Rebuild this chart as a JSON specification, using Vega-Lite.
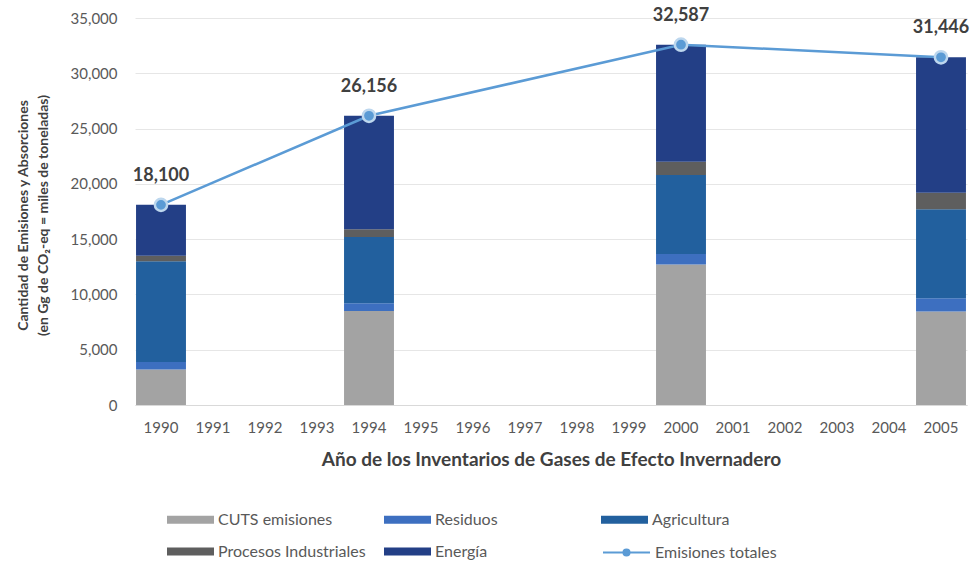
{
  "$schema": "https://vega.github.io/schema/vega-lite/v6.json",
  "width": 832,
  "height": 387,
  "autosize": {"type": "none"},
  "padding": {"left": 135, "top": 18, "right": 5, "bottom": 162},
  "background": "white",
  "config": {
    "font": "Lato",
    "view": {"stroke": null},
    "axis": {
      "labelFont": "Lato",
      "labelColor": "#595959",
      "labelFontSize": 15,
      "titleFont": "Lato",
      "titleColor": "#404040",
      "titleFontWeight": "bold"
    },
    "axisY": {
      "titleFontSize": 14,
      "titleLineHeight": 20,
      "titleAngle": -90,
      "titleX": -119,
      "titleY": 197,
      "titleBaseline": "top",
      "titleAlign": "center",
      "values": [0, 5000, 10000, 15000, 20000, 25000, 30000, 35000],
      "format": ",d",
      "labelPadding": 18,
      "ticks": false,
      "domain": false,
      "grid": true,
      "gridColor": "#E6E6E6"
    },
    "legend": {
      "labelFont": "Lato",
      "labelFontSize": 16,
      "labelColor": "#595959",
      "labelLimit": 400
    }
  },
  "datasets": {
    "sectores": [
      {"anio": "1990", "sector": "CUTS emisiones", "valor": 3200},
      {"anio": "1990", "sector": "Residuos", "valor": 700},
      {"anio": "1990", "sector": "Agricultura", "valor": 9100},
      {"anio": "1990", "sector": "Procesos Industriales", "valor": 500},
      {"anio": "1990", "sector": "Energía", "valor": 4600},
      {"anio": "1994", "sector": "CUTS emisiones", "valor": 8500},
      {"anio": "1994", "sector": "Residuos", "valor": 700},
      {"anio": "1994", "sector": "Agricultura", "valor": 6000},
      {"anio": "1994", "sector": "Procesos Industriales", "valor": 700},
      {"anio": "1994", "sector": "Energía", "valor": 10256},
      {"anio": "2000", "sector": "CUTS emisiones", "valor": 12700},
      {"anio": "2000", "sector": "Residuos", "valor": 950},
      {"anio": "2000", "sector": "Agricultura", "valor": 7150},
      {"anio": "2000", "sector": "Procesos Industriales", "valor": 1200},
      {"anio": "2000", "sector": "Energía", "valor": 10587},
      {"anio": "2005", "sector": "CUTS emisiones", "valor": 8450},
      {"anio": "2005", "sector": "Residuos", "valor": 1200},
      {"anio": "2005", "sector": "Agricultura", "valor": 8050},
      {"anio": "2005", "sector": "Procesos Industriales", "valor": 1500},
      {"anio": "2005", "sector": "Energía", "valor": 12246}
    ],
    "totales": [
      {"anio": "1990", "total": 18100},
      {"anio": "1994", "total": 26156},
      {"anio": "2000", "total": 32587},
      {"anio": "2005", "total": 31446}
    ]
  },
  "encoding": {
    "x": {
      "field": "anio",
      "type": "ordinal",
      "scale": {
        "domain": ["1990","1991","1992","1993","1994","1995","1996","1997","1998","1999","2000","2001","2002","2003","2004","2005"],
        "paddingInner": 0.04,
        "paddingOuter": 0.02
      },
      "axis": {
        "title": "Año de los Inventarios de Gases de Efecto Invernadero",
        "titleFontSize": 19,
        "titlePadding": 15,
        "labelAngle": 0,
        "labelPadding": 15,
        "ticks": false,
        "domain": true,
        "domainColor": "#D9D9D9",
        "grid": false
      }
    }
  },
  "layer": [
    {
      "data": {"name": "sectores"},
      "transform": [
        {"calculate": "indexof(['CUTS emisiones','Residuos','Agricultura','Procesos Industriales','Energía'], datum.sector)", "as": "orden"}
      ],
      "mark": {"type": "bar"},
      "encoding": {
        "y": {
          "field": "valor",
          "type": "quantitative",
          "stack": "zero",
          "scale": {"domain": [0, 35000]},
          "axis": {"title": ["Cantidad de Emisiones y Absorciones", "(en Gg de CO₂-eq = miles de toneladas)"]}
        },
        "order": {"field": "orden", "type": "quantitative", "sort": "ascending"},
        "color": {
          "field": "sector",
          "type": "nominal",
          "scale": {
            "domain": ["CUTS emisiones", "Residuos", "Agricultura", "Procesos Industriales", "Energía"],
            "range": ["#A3A3A3", "#3D6FC0", "#22609E", "#5E5E5E", "#233F86"]
          },
          "legend": {
            "title": null,
            "orient": "none",
            "legendX": 32,
            "legendY": 478,
            "direction": "horizontal",
            "columns": 3,
            "gridAlign": "all",
            "columnPadding": 18,
            "rowPadding": -15,
            "symbolType": "M-1,-0.17H1V0.17H-1Z",
            "symbolSize": 2209,
            "symbolStrokeWidth": 0,
            "labelOffset": 4
          }
        }
      }
    },
    {
      "data": {"name": "totales"},
      "mark": {"type": "line", "strokeWidth": 2.5},
      "encoding": {
        "y": {"field": "total", "type": "quantitative", "axis": {"title": ["Cantidad de Emisiones y Absorciones", "(en Gg de CO₂-eq = miles de toneladas)"]}},
        "stroke": {
          "datum": "Emisiones totales",
          "scale": {"range": ["#5B9BD5"]},
          "legend": {
            "title": null,
            "orient": "none",
            "legendX": 467,
            "legendY": 510,
            "symbolType": "M-1,0H-0.13M0.13,0H1M0.13,0A0.13,0.13 0 1,1 -0.13,0A0.13,0.13 0 1,1 0.13,0",
            "symbolSize": 2209,
            "symbolStrokeWidth": 2,
            "symbolFillColor": "#5B9BD5",
            "labelOffset": 4
          }
        }
      }
    },
    {
      "data": {"name": "totales"},
      "mark": {"type": "point", "filled": true, "size": 150, "fill": "#5B9BD5", "stroke": "#BDD7EE", "strokeWidth": 2.5, "opacity": 1},
      "encoding": {
        "y": {"field": "total", "type": "quantitative", "axis": {"title": ["Cantidad de Emisiones y Absorciones", "(en Gg de CO₂-eq = miles de toneladas)"]}}
      }
    },
    {
      "data": {"name": "totales"},
      "mark": {"type": "text", "dy": -29, "fontSize": 18, "fontWeight": "bold", "color": "#404040", "baseline": "middle"},
      "encoding": {
        "y": {"field": "total", "type": "quantitative", "axis": {"title": ["Cantidad de Emisiones y Absorciones", "(en Gg de CO₂-eq = miles de toneladas)"]}},
        "text": {"field": "total", "type": "quantitative", "format": ",d"}
      }
    }
  ]
}
